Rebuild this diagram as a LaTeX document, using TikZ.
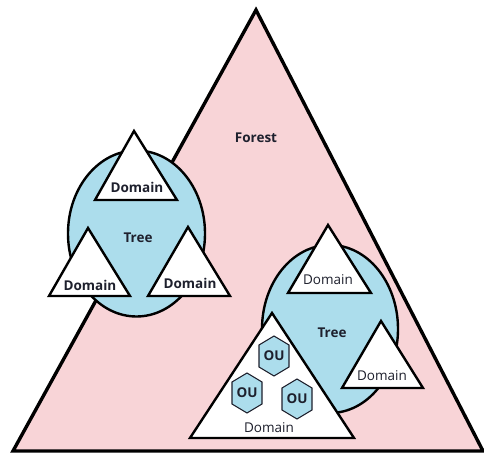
\documentclass[tikz,border=0pt]{standalone}
\usepackage{fontspec}
\setmainfont{Open Sans}
\begin{document}
\begin{tikzpicture}[x=1pt,y=-1pt,
  forestfill/.style={fill=pinkbg,draw=black,line width=3.4pt,line join=miter},
  treefill/.style={fill=bluebg,draw=black,line width=2.4pt},
  domfill/.style={fill=white,draw=black,line width=2.4pt,line join=miter},
  oufill/.style={fill=bluebg,draw=ink,line width=1.1pt},
  lbl/.style={text=ink,font=\fontsize{13.5}{15}\selectfont,inner sep=0pt},
  blbl/.style={lbl,font=\fontsize{13.5}{15}\selectfont\bfseries}]
\definecolor{pinkbg}{RGB}{248,212,215}
\definecolor{bluebg}{RGB}{172,221,236}
\definecolor{ink}{RGB}{30,32,45}
\useasboundingbox (0,0) rectangle (484,454);

% forest
\draw[forestfill] (256,10) -- (483,451) -- (13,451) -- cycle;
\node[blbl] (forest) at (256,138) {Forest};

% left tree
\draw[treefill] (136.5,233.5) ellipse [x radius=68.5, y radius=83];
\node[blbl] (treeL) at (138,238) {Tree};
\draw[domfill] (134,131) -- (177,200) -- (95,200) -- cycle;
\draw[domfill] (88,228) -- (130,296) -- (49,296) -- cycle;
\draw[domfill] (188,227) -- (230,296) -- (148,296) -- cycle;
\node[blbl] (domL1) at (137,187) {Domain};
\node[blbl] (domL2) at (90,285) {Domain};
\node[blbl] (domL3) at (190,283) {Domain};

% right tree
\draw[treefill] (330,329) ellipse [x radius=68, y radius=84];
\node[blbl] (treeR) at (332,333) {Tree};
\draw[domfill] (328,225) -- (371,293) -- (288,293) -- cycle;
\draw[domfill] (381,321) -- (423,388) -- (342,388) -- cycle;
\draw[domfill] (272,313) -- (354,438) -- (190,438) -- cycle;
\node[lbl] (domR1) at (328,280) {Domain};
\node[lbl] (domR2) at (382,376) {Domain};
\node[lbl] (domR3) at (269,428) {Domain};

% organisational units
\foreach \n/\cx/\cy in {ou1/274/356, ou2/247/393, ou3/297/399} {
  \draw[oufill] (\cx,\cy-20) -- (\cx+15,\cy-11) -- (\cx+15,\cy+11)
    -- (\cx,\cy+20) -- (\cx-15,\cy+11) -- (\cx-15,\cy-11) -- cycle;
  \node[blbl] (\n) at (\cx,\cy) {OU};
}
\end{tikzpicture}
\end{document}
